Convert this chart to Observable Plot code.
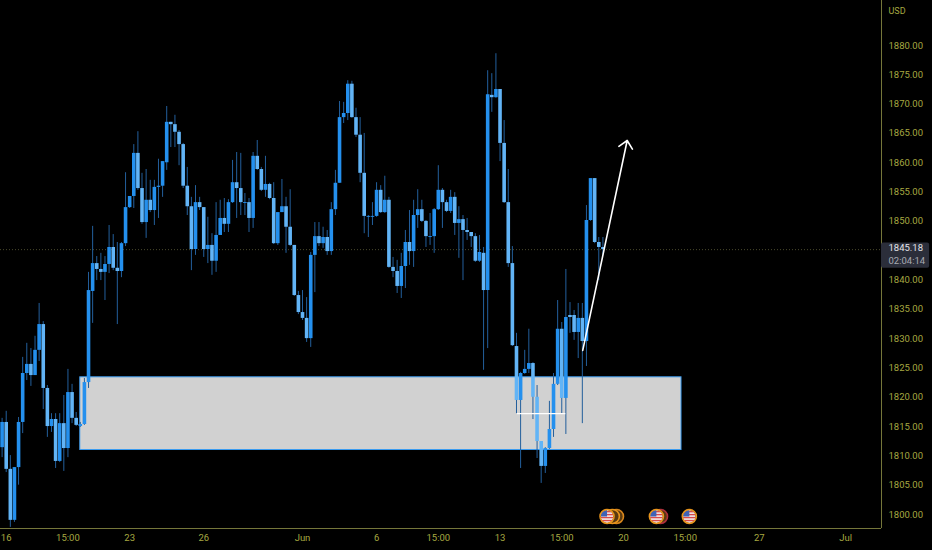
<!DOCTYPE html>
<html>
<head>
<meta charset="utf-8">
<style>html,body{margin:0;padding:0;background:#000;overflow:hidden}svg{display:block}</style>
<script src="https://cdn.jsdelivr.net/npm/d3@7"></script>
<script src="https://cdn.jsdelivr.net/npm/@observablehq/plot@0.6"></script>
</head>
<body>
<div id="chart"></div>
<script>
const opens = [1811.4,1815.7,1807.7,1799,1808,1815.7,1824.05,1825.6,1823.7,1828,1832.4,1821.5,1815,1816.2,1809.05,1815.5,1811.25,1820.8,1816.4,1815,1815.35,1822.5,1838.05,1842.8,1841.8,1841.3,1842.65,1845.55,1842,1841.45,1846.2,1852.35,1854.25,1861.6,1855.6,1849.8,1853.6,1851.85,1855.8,1856,1860,1866.9,1866.5,1865.2,1863.1,1856,1852.5,1845.2,1853.2,1852.35,1845.2,1845.9,1843.2,1847.6,1850.5,1849.5,1853.2,1856.6,1855.6,1853.05,1853.2,1850.5,1861.1,1858.85,1855.3,1856.3,1853.9,1846.2,1851.5,1852.5,1849,1845.9,1837.35,1834.45,1833.45,1830,1844.2,1847.4,1846.2,1847.25,1844.85,1852,1856.5,1867.7,1868.4,1873.4,1867.7,1864.7,1858.2,1850.7,1850.7,1850.85,1855.3,1851.5,1853.6,1842.15,1841.45,1838.9,1842.3,1846.4,1844.85,1851,1852,1850,1847.25,1847.4,1852,1855.3,1853.2,1851.7,1854.1,1849.65,1850.3,1848.45,1848.1,1847.4,1843.2,1844.55,1838.2,1871.5,1871.1,1872.5,1863.3,1853.2,1842.8,1828.65,1819.45,1824.05,1824.75,1825.75,1820,1812.45,1808.2,1811.25,1814.5,1822.2,1831.6,1819.8,1833.95,1833.95,1831.05,1833.45,1829.5,1850.15,1857.3,1846.4,1845.55];
const closes = [1815.7,1807.7,1799,1808,1815.7,1824.05,1825.6,1823.7,1828,1832.4,1821.5,1815,1816.2,1809.05,1815.5,1811.25,1820.8,1816.4,1815.2,1815.35,1822.5,1838.2,1842.8,1841.8,1841.3,1842.65,1845.55,1842,1841.45,1846.2,1852.35,1854.25,1861.6,1855.6,1849.8,1853.6,1851.85,1855.8,1856,1860.2,1866.9,1866.5,1865.2,1863.1,1856,1852.5,1845.2,1853.2,1852.35,1845.2,1845.9,1843.2,1847.6,1850.5,1849.5,1853.2,1856.6,1855.6,1853.2,1853.2,1850.5,1861.1,1858.85,1855.3,1856.3,1853.9,1846.2,1851.5,1852.5,1849,1845.9,1837.35,1834.45,1833.45,1830,1844.2,1847.4,1846.2,1847.25,1844.85,1852,1856.5,1867.7,1868.4,1873.4,1867.7,1864.7,1858.2,1850.85,1850.85,1850.85,1855.3,1851.5,1853.6,1842.15,1841.45,1838.9,1842.3,1846.4,1844.85,1851,1852,1850,1847.4,1847.4,1852,1855.3,1853.2,1851.7,1854.1,1849.65,1850.3,1848.45,1848.1,1847.4,1843.2,1844.7,1838.2,1871.6,1871.1,1872.5,1863.3,1853.2,1842.8,1828.8,1819.45,1824.05,1824.75,1825.75,1820,1812.45,1808.2,1811.25,1814.5,1822.2,1831.6,1819.8,1833.6,1833.6,1831.05,1833.45,1829.5,1850.15,1857.3,1846.4,1845.55,1845.18];
const highs = [1816.4,1817.6,1810.05,1808,1816.55,1826.8,1829.2,1828.3,1830.4,1836,1832.9,1822,1817.2,1817.2,1817.2,1820.3,1824.75,1822.2,1817.4,1815.7,1823.2,1841.3,1849.15,1844,1844.55,1844,1849.3,1847.75,1846.4,1846.4,1858.3,1854.25,1863.1,1865.3,1858.2,1858.85,1857,1857,1860.6,1860.2,1869.6,1866.9,1868.1,1865.5,1863.3,1859.2,1854.1,1856.1,1854.1,1852.35,1850.7,1847.9,1853.2,1853.6,1853.9,1853.7,1860.4,1861.75,1861.6,1854.75,1853.9,1861.75,1863.8,1859.2,1861.1,1856.5,1856.6,1851.5,1857.15,1854.1,1855.4,1845.9,1838.05,1838.2,1837,1844.7,1849.8,1849.8,1849,1848.45,1853.2,1858.7,1870.45,1870.3,1874,1873.9,1869.3,1867.7,1865,1851,1853.2,1856.6,1856.1,1857.7,1854.1,1843.85,1843.35,1844.55,1848.45,1851.85,1853.6,1855.4,1853.6,1850.15,1851.35,1852.2,1859.5,1855.6,1853.6,1855.3,1854.9,1852.5,1851,1850.5,1848.1,1847.9,1847.6,1845.55,1875.7,1875.2,1878.6,1872.5,1867.2,1858.85,1845.7,1830.9,1824.25,1828,1831.6,1825.9,1822,1812.45,1811.4,1819.3,1824.05,1836.5,1832.75,1841.8,1836.15,1834.8,1836,1836,1852.7,1857.3,1857.3,1847.25,1847.25];
const lows = [1809.7,1807.15,1797.8,1798.65,1805,1813.8,1822.85,1821.85,1823.7,1826.1,1817.9,1813.15,1814,1807.85,1808.85,1807.35,1809.7,1815.5,1815,1814.85,1815.2,1821.5,1832.6,1839.9,1839.9,1836.5,1841.1,1841.6,1832.4,1840.4,1845.7,1852.2,1852.2,1855.3,1849.5,1847.1,1851.5,1849.3,1850.5,1854.1,1858.7,1862.6,1862.6,1859.5,1855.6,1851,1841.6,1844.2,1851.85,1843.85,1842.8,1840.8,1841.3,1847.6,1848.1,1848.1,1853.05,1850.5,1851,1851,1848.1,1848.8,1858.7,1855.1,1854.1,1853.7,1846.05,1845.9,1851.5,1844.55,1845.7,1837.2,1834.1,1833.1,1829.35,1828.5,1837.85,1845.7,1845.4,1844.2,1844.2,1851,1856.5,1866.7,1867.2,1867.6,1864.3,1856.6,1847.9,1847.25,1849.3,1850.7,1851.35,1851.35,1842,1840.4,1837.7,1836.85,1838.55,1842.5,1842.15,1848.8,1849.8,1845.55,1845.9,1844.55,1851.85,1848.8,1851.5,1851.35,1847.6,1843.7,1839.9,1846.75,1845.55,1843,1843,1824.6,1828.3,1868.6,1871,1860.2,1853.05,1842.15,1828.65,1817.2,1807.85,1823.9,1824.05,1816.2,1809.55,1805.3,1807,1811.1,1813.15,1822,1817.2,1813.65,1830.9,1829.7,1826.6,1815.5,1825.25,1850,1846.2,1839.9,1844.2];

const xTickBars = [1,16,31,49,73,91,106,121,136,151,166,184,205];
const xTickLabels = ["16","15:00","23","26","Jun","6","15:00","13","15:00","20","15:00","27","Jul"];
const yTickValues = [1880,1875,1870,1865,1860,1855,1850,1840,1835,1830,1825,1820,1815,1810,1805,1800];
const lastPrice = 1845.18;
const zoneBars = [19,165.1];
const zonePrices = [1811,1823.4];
const levelBars = [125.2,137];
const levelPrice = 1817.2;
const arrowBars = [141.1,151.9];
const arrowPrices = [1828,1863.8];
const eventBack = [149.3,148.3,160];
const eventBackColor = ["#d8861c","#e8951c","#b0303c"];
const eventFront = [147,159,167];
const eventPrice = 1799.66;

const flag = "data:image/svg+xml," + encodeURIComponent('<svg xmlns="http://www.w3.org/2000/svg" viewBox="0 0 14 14"><rect width="14" height="14" fill="#f4f4f4"/><g fill="#d84a4a"><rect y="1" width="14" height="1.6"/><rect y="4.2" width="14" height="1.6"/><rect y="7.4" width="14" height="1.6"/><rect y="10.6" width="14" height="1.6"/></g><rect width="7" height="7" fill="#3f62b5"/></svg>');

const bars = closes.map((c,i)=>({i,o:opens[i],c,h:highs[i],l:lows[i],up:c>=opens[i]}));
const xMax = 213.7, xBox = 225.4;
const tickColor = "#a6a840", axisColor = "#75763a";
const fontFamily = "Roboto, sans-serif";

const chart = Plot.plot({
  width:932, height:550,
  marginLeft:0, marginRight:51, marginTop:0, marginBottom:22,
  style:{background:"#000",fontFamily,fontSize:"9.5px",overflow:"visible"},
  x:{type:"linear",domain:[-0.389,xMax]},
  y:{type:"linear",domain:[1797.61,1887.68]},
  marks:[
    Plot.ruleY([lastPrice],{stroke:"#4a4a2c",strokeDasharray:"1 2",strokeWidth:1}),
    Plot.rect([0],{x1:()=>zoneBars[0],x2:()=>zoneBars[1],y1:()=>zonePrices[0],y2:()=>zonePrices[1],fill:"#d1d1d1",stroke:"#3c9cf0",strokeWidth:1}),
    Plot.ruleX(bars,{x:"i",y1:"l",y2:"h",stroke:"#235f9c",strokeWidth:1}),
    Plot.ruleX(bars,{x:"i",y1:"o",y2:"c",stroke:d=>d.up?"#2490ee":"#62b4f6",strokeWidth:3.6}),
    Plot.ruleY([levelPrice],{x1:levelBars[0],x2:levelBars[1],stroke:"#fff",strokeWidth:1.2}),
    Plot.arrow([0],{x1:()=>arrowBars[0],x2:()=>arrowBars[1],y1:()=>arrowPrices[0],y2:()=>arrowPrices[1],stroke:"#fff",strokeWidth:1.6,headLength:9.5,headAngle:86,insetStart:0,insetEnd:0}),
    Plot.ruleX([xMax],{stroke:axisColor,strokeWidth:1}),
    Plot.ruleY([1797.61],{stroke:axisColor,strokeWidth:1.2}),
    Plot.axisX({anchor:"bottom",ticks:xTickBars,tickSize:0,tickPadding:6,tickFormat:d=>xTickLabels[xTickBars.indexOf(d)],fill:tickColor,label:null,fontSize:9.5}),
    Plot.axisY({anchor:"right",ticks:yTickValues,tickSize:0,tickPadding:7,tickFormat:d=>d.toFixed(2),fill:tickColor,label:null,fontSize:9.5}),
    Plot.text(["USD"],{x:xMax,y:1885.9,dx:7,textAnchor:"start",fill:tickColor,fontSize:9}),
    Plot.rect([0],{x1:()=>xMax,x2:()=>xBox,y1:()=>1842,y2:()=>1846.3,fill:"#2b2e3a",rx:2}),
    Plot.text([lastPrice.toFixed(2)],{x:xMax,y:lastPrice,dx:7,dy:-2,textAnchor:"start",fill:"#e4e4e8",fontSize:9.5}),
    Plot.text(["02:04:14"],{x:xMax,y:lastPrice,dx:7,dy:11,textAnchor:"start",fill:"#a8aab2",fontSize:9.5}),
    Plot.dot(eventBack,{x:d=>d,y:()=>eventPrice,r:7,fill:"#5a3a10",stroke:(d,i)=>eventBackColor[i],strokeWidth:1.6}),
    Plot.dot(eventFront,{x:d=>d,y:()=>eventPrice,r:7,fill:"#000"}),
    Plot.image(eventFront,{x:d=>d,y:()=>eventPrice,src:()=>flag,r:6.5,preserveAspectRatio:"xMidYMid slice"}),
    Plot.dot(eventFront,{x:d=>d,y:()=>eventPrice,r:7,fill:"none",stroke:"#e8951c",strokeWidth:1.6})
  ]
});
document.getElementById("chart").append(chart);
</script>
</body>
</html>
